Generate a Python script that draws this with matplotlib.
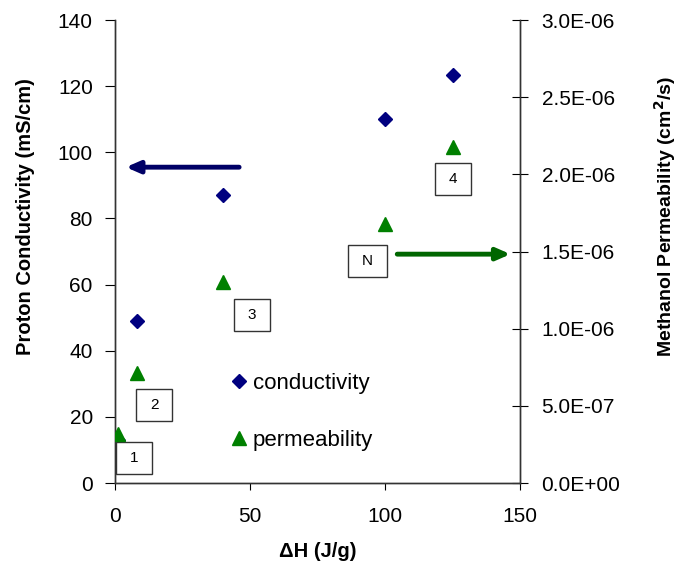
import matplotlib
matplotlib.use('Agg')
import matplotlib.pyplot as plt
import matplotlib.patches as mpatches
from matplotlib.ticker import FuncFormatter, MultipleLocator

plt.rcParams['font.family'] = ['Liberation Sans', 'DejaVu Sans']

# ── 数据 ──────────────────────────────────────────────
dh_cond = [1, 8, 40, 100, 125]
conductivity = [13, 49, 87, 110, 123.5]

dh_perm = [1, 8, 40, 100, 125]
permeability = [3.2e-7, 7.1e-7, 1.30e-6, 1.68e-6, 2.18e-6]

box_labels = ['1', '2', '3', 'N', '4']
box_x = [7.0, 14.6, 50.7, 93.5, 125.2]
box_y = [7.6, 23.6, 50.9, 67.0, 91.9]

NAVY = '#000080'
GREEN = '#008000'

fig = plt.figure(figsize=(6.78, 5.77), dpi=100)
ax = fig.add_axes([0.1696, 0.1629, 0.5974, 0.8024])
ax2 = ax.twinx()

l1, = ax.plot(dh_cond, conductivity, linestyle='none', marker='D', ms=7.5,
              color=NAVY, label='conductivity', zorder=3)
l2, = ax2.plot(dh_perm, permeability, linestyle='none', marker='^', ms=10,
               color=GREEN, label='permeability', zorder=3)

ax.set_xlim(0, 150)
ax.set_ylim(0, 140)
ax2.set_ylim(0, 3.0e-6)
ax.xaxis.set_major_locator(MultipleLocator(50))
ax.yaxis.set_major_locator(MultipleLocator(20))
ax2.yaxis.set_major_locator(MultipleLocator(5e-7))
ax2.yaxis.set_major_formatter(FuncFormatter(lambda v, p: '{:.1E}'.format(v)))

for a in (ax, ax2):
    a.spines['top'].set_visible(False)
    for s in a.spines.values():
        s.set_linewidth(1.0)
        s.set_color('#333333')
ax.tick_params(axis='y', direction='out', length=7, labelsize=15, pad=9)
ax.tick_params(axis='x', direction='out', length=5, labelsize=15, pad=12)
ax2.tick_params(axis='y', direction='inout', length=11, labelsize=15, pad=10)

ax.set_xlabel('ΔH (J/g)', fontsize=14.5, fontweight='bold')
ax.set_ylabel('Proton Conductivity (mS/cm)', fontsize=14.5, fontweight='bold')
ax2.set_ylabel(r'Methanol Permeability (cm$\mathbf{^2}$/s)', fontsize=14,
               fontweight='bold')
ax.xaxis.set_label_coords(0.5, -0.127)
ax.yaxis.set_label_coords(-0.198, 0.575)
ax2.yaxis.set_label_coords(1.325, 0.575)

# 编号框 (36x32 px)
bw, bh = 36 / 2.7, 32 / 3.307
for t, x, y in zip(box_labels, box_x, box_y):
    w = bw * (39 / 36) if t == 'N' else bw
    ax.add_patch(mpatches.Rectangle((x - w / 2, y - bh / 2), w, bh,
                                    facecolor='white', edgecolor='#333333',
                                    linewidth=1.0, zorder=4, clip_on=False))
    ax.text(x, y, t, fontsize=11, ha='center', va='center', zorder=5)

# 箭头
ax.annotate('', xy=(3, 95.5), xytext=(47, 95.5),
            arrowprops=dict(arrowstyle='-|>,head_length=0.8,head_width=0.35',
                            color='#000066', lw=3.5))
ax.annotate('', xy=(147.5, 69.2), xytext=(103.5, 69.2),
            arrowprops=dict(arrowstyle='-|>,head_length=0.8,head_width=0.35',
                            color='#006600', lw=3.5))

ax.legend([l1, l2], ['conductivity', 'permeability'], frameon=False,
          fontsize=16, loc='upper left', bbox_to_anchor=(0.284, 0.238),
          borderaxespad=0, borderpad=0, labelspacing=1.63,
          handletextpad=0.23, handlelength=0.8)

fig.savefig('out.png', dpi=100)
